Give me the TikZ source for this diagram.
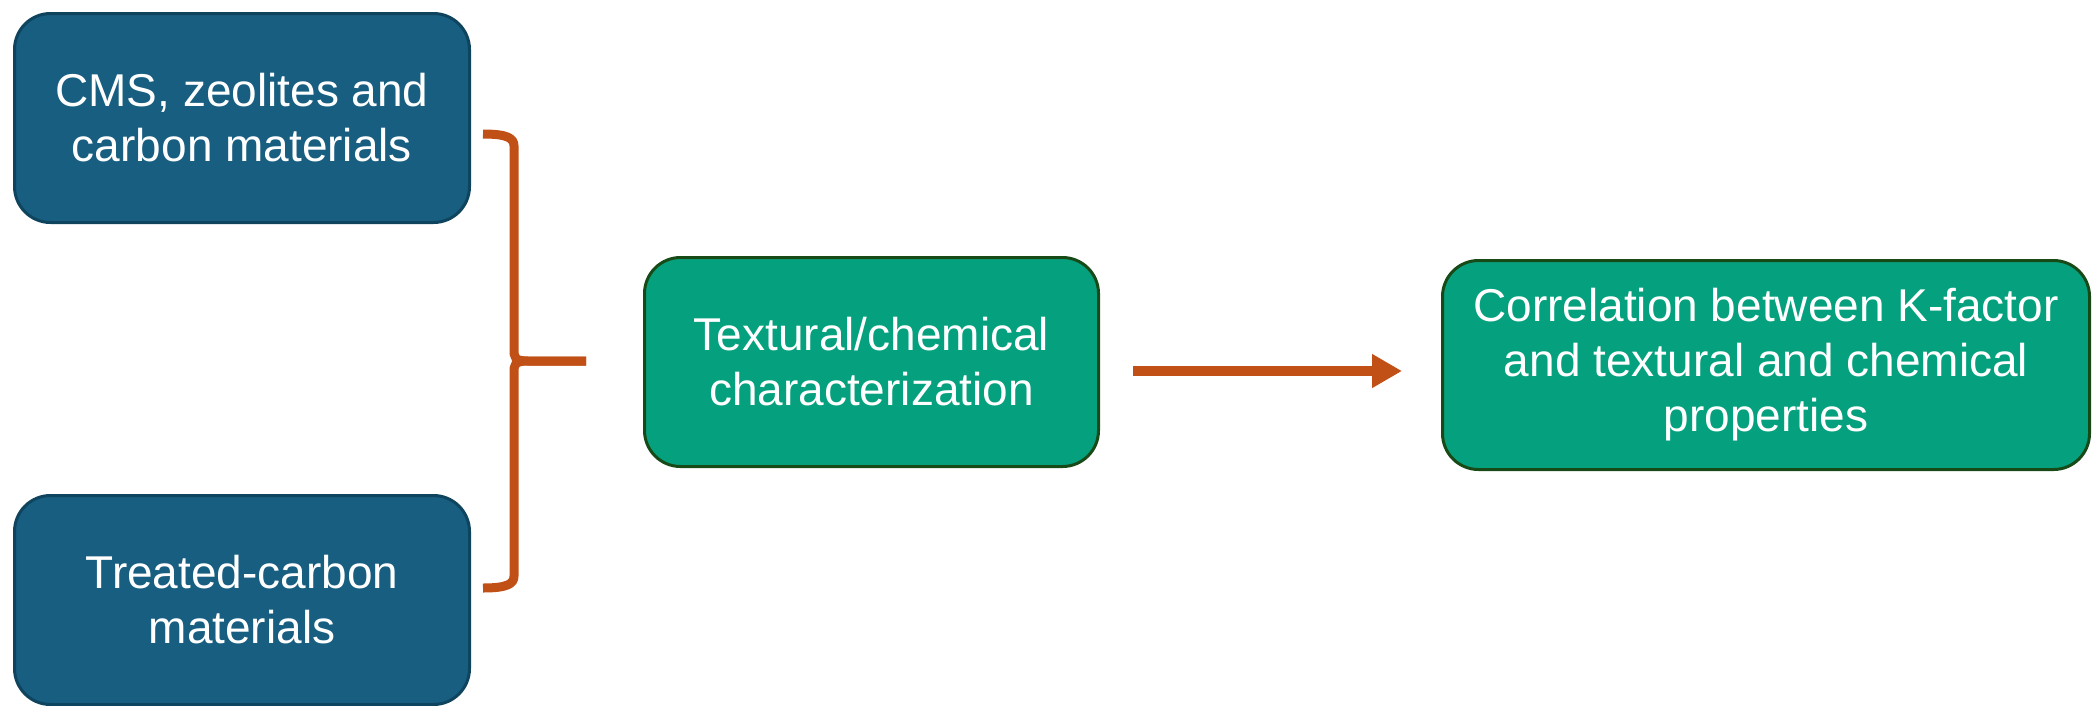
\documentclass[tikz,border=0pt]{standalone}
\usepackage{fontspec}
\setmainfont{Liberation Sans}
\usetikzlibrary{arrows.meta,calc}
\definecolor{srcblue}{RGB}{23,94,128}
\definecolor{srcblueline}{RGB}{14,68,94}
\definecolor{stepgreen}{RGB}{5,161,126}
\definecolor{stepgreenline}{RGB}{24,74,24}
\definecolor{linkorange}{RGB}{192,80,22}

\begin{document}
\begin{tikzpicture}[x=1pt,y=-1pt,
  box/.style={rounded corners=36pt, line width=3pt, text=white, align=center,
    font=\fontsize{46}{55}\selectfont, inner sep=0pt},
  srcbox/.style={box, fill=srcblue, draw=srcblueline,
    minimum width=455pt, minimum height=209pt},
  greenbox/.style={box, fill=stepgreen, draw=stepgreenline, minimum height=209pt},
  brace/.style={draw=linkorange, line width=9pt},
  link/.style={draw=linkorange, line width=10pt,
    -{Triangle[length=30pt,width=32pt]}}
]
\useasboundingbox (0,0) rectangle (2092,705);

% input materials
\node[srcbox] (b1) at (242,118) {CMS, zeolites and\\carbon materials};
\node[srcbox] (b2) at (242,600) {Treated-carbon\\materials};

% processing steps
\node[greenbox, minimum width=454pt] (b3) at (871.5,362)
  {Textural/chemical\\characterization};
\node[greenbox, minimum width=647pt] (b4) at (1766,365)
  {Correlation between K-factor\\and textural and chemical\\properties};

% curly brace joining the two inputs
\coordinate (bt) at ([xshift=12pt,yshift=-16pt]b1.east);
\coordinate (bb) at ([xshift=12pt,yshift=12pt]b2.east);
\coordinate (tip) at ([xshift=-57pt,yshift=1pt]b3.west);

\draw[brace] (bt) .. controls +(24,0) and +(0,-8) .. ++(31,12)
  -- ++(0,203) .. controls +(0,8) and +(-14,0) .. ++(14,12) -- (tip);
\draw[brace] (tip) -- ++(-58,0) .. controls +(-14,0) and +(0,-8) .. ++(-14,12)
  -- ++(0,203) .. controls +(0,8) and +(24,0) .. (bb);

% arrow to the final step
\draw[link] ([xshift=33pt,yshift=-9pt]b3.east) -- ([xshift=-39pt,yshift=-6pt]b4.west);
\end{tikzpicture}
\end{document}
